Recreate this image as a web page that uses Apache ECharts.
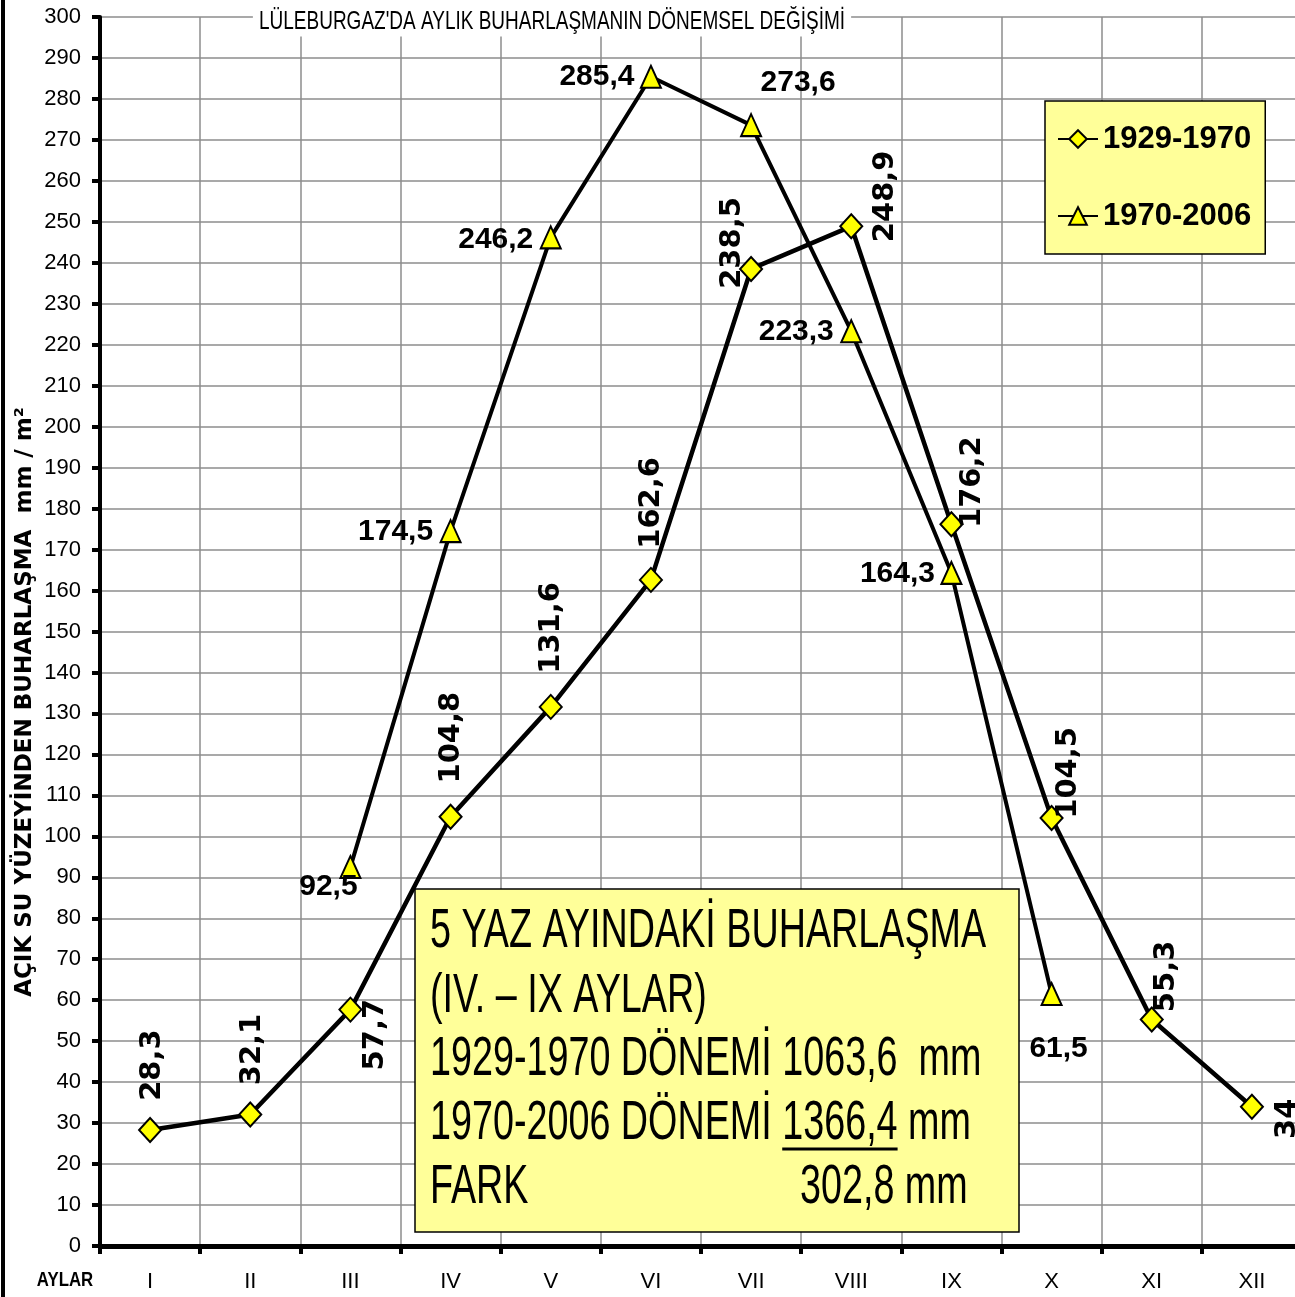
<!DOCTYPE html>
<html>
<head>
<meta charset="utf-8">
<script src="https://cdn.jsdelivr.net/npm/echarts@6/dist/echarts.min.js"></script>
<style>
  html, body { margin: 0; padding: 0; background: #fff; }
  #chart { width: 1295px; height: 1297px; }
</style>
</head>
<body>
<div id="chart"></div>
<script>
// Months (Roman numerals) and monthly open-water evaporation (mm)
const months = ['I', 'II', 'III', 'IV', 'V', 'VI', 'VII', 'VIII', 'IX', 'X', 'XI', 'XII'];
const evap1929 = [28.3, 32.1, 57.7, 104.8, 131.6, 162.6, 238.5, 248.9, 176.2, 104.5, 55.3, 34];
const evap1970 = [null, null, 92.5, 174.5, 246.2, 285.4, 273.6, 223.3, 164.3, 61.5, null, null];
const seriesNames = ['1929-1970', '1970-2006'];

// Summary box text
const noteLines = [
  '5 YAZ AYINDAKİ BUHARLAŞMA',
  '(IV. – IX AYLAR)',
  '1929-1970 DÖNEMİ 1063,6  mm',
  '1970-2006 DÖNEMİ 1366,4 mm',
  'FARK'
];
const noteDiff = '302,8 mm';
const chartTitle = "LÜLEBURGAZ'DA AYLIK BUHARLAŞMANIN DÖNEMSEL DEĞİŞİMİ";

// Screen shift of each value label from its marker centre [dx, dy]
const shift1929 = [[2,-65],[2,-65],[25,25],[1,-79],[1,-79],[1,-77],[-19,-26],[34,-30],[21,-42],[17,-45],[15,-43],[36,12]];
const shift1970 = [null,null,[-22,20],[-55,1],[-55,2],[-54,0],[47,-42],[-55,1],[-54,1],[7,55],null,null];

const fmt = p => String(p.value).replace('.', ',');
const SANS = '"Liberation Sans", Arial, sans-serif';
const NARROW_X = 0.82;   // horizontal squeeze giving a narrow face

// rotated labels: offset is applied in the label's rotated frame
const data1929 = evap1929.map((v, i) => ({
  value: v,
  label: { offset: [-shift1929[i][1], shift1929[i][0]] }
}));
const data1970 = evap1970.map((v, i) => v == null ? null : ({
  value: v,
  label: { offset: shift1970[i] }
}));

// underline position under the 1970-2006 total
const NOTE_FONT = '46px "Liberation Sans", Arial, sans-serif';
const ctx = document.createElement('canvas').getContext('2d');
ctx.font = NOTE_FONT;
const NOTE_X = 430;
const ulStart = NOTE_X + ctx.measureText('1970-2006 DÖNEMİ ').width * NARROW_X;
const ulEnd = ulStart + ctx.measureText('1366,4').width * NARROW_X;

const noteY = [932, 997, 1060, 1124, 1188];
const noteScaleY = 1.2;

function txt(x, y, text, font, align, sx, sy, extra) {
  return Object.assign({
    type: 'text', z: 101, x: x, y: y, scaleX: sx, scaleY: sy,
    style: Object.assign({ text: text, font: font, fill: '#000',
      textAlign: align, align: align, textVerticalAlign: 'middle', verticalAlign: 'middle' }, extra || {})
  });
}

const graphics = [
  { type: 'line', z: 100, shape: { x1: 3, y1: 0, x2: 3, y2: 1297 }, style: { stroke: '#000', lineWidth: 4 } },
  txt(552, 22, chartTitle, '25px "Liberation Sans", Arial, sans-serif', 'center', 0.76, 1,
      { backgroundColor: '#fff', padding: [2, 8] }),
  { type: 'text', z: 100, x: 25, y: 702, rotation: Math.PI / 2,
    style: { text: 'AÇIK SU YÜZEYİNDEN BUHARLAŞMA  mm / m²', font: 'bold 23px "DejaVu Sans"',
             fill: '#000', textAlign: 'center', textVerticalAlign: 'middle', align: 'center', verticalAlign: 'middle' } },
  txt(65, 1280, 'AYLAR', 'bold 21px "Liberation Sans", Arial, sans-serif', 'center', 0.8, 1),
  { type: 'rect', z: 100, shape: { x: 415, y: 889, width: 604, height: 343 },
    style: { fill: '#ffff99', stroke: '#000', lineWidth: 1.5 } }
];
noteLines.forEach((t, i) => {
  graphics.push(txt(NOTE_X, noteY[i], t, NOTE_FONT, 'left', NARROW_X, noteScaleY));
});
graphics.push(txt(800, noteY[4], noteDiff, NOTE_FONT, 'left', NARROW_X, noteScaleY));
graphics.push({ type: 'line', z: 101, shape: { x1: ulStart, y1: 1149, x2: ulEnd, y2: 1149 },
  style: { stroke: '#000', lineWidth: 3 } });

const chart = echarts.init(document.getElementById('chart'), null, { renderer: 'canvas' });
chart.setOption({
  animation: false,
  backgroundColor: '#fff',
  legend: {
    data: seriesNames,
    orient: 'vertical',
    left: 1045, top: 101,
    backgroundColor: '#ffff99',
    borderColor: '#000', borderWidth: 1.5, borderRadius: 0,
    padding: [18, 14, 18, 12],
    itemGap: 37, itemWidth: 40, itemHeight: 22,
    textStyle: { fontFamily: SANS, fontWeight: 'bold', fontSize: 31, lineHeight: 40, color: '#000' }
  },
  grid: { left: 100, top: 17, width: 1202, height: 1229, outerBoundsMode: 'none', containLabel: false },
  xAxis: {
    type: 'category',
    data: months,
    boundaryGap: true,
    axisLine: { lineStyle: { color: '#000', width: 5 } },
    axisTick: { show: true, length: 8, lineStyle: { color: '#000', width: 4 } },
    splitLine: { show: true, lineStyle: { color: '#8c8c8c', width: 1.5 } },
    axisLabel: { margin: 25, fontFamily: SANS, fontSize: 22, color: '#000' }
  },
  yAxis: {
    type: 'value',
    min: 0, max: 300, interval: 10,
    axisLine: { show: true, lineStyle: { color: '#000', width: 4 } },
    axisTick: { show: true, length: 8, lineStyle: { color: '#000', width: 4 } },
    splitLine: { show: true, lineStyle: { color: '#8c8c8c', width: 1.5 } },
    axisLabel: { margin: 19, fontFamily: SANS, fontSize: 22, color: '#000' }
  },
  series: [
    {
      name: seriesNames[0], type: 'line', data: data1929,
      symbol: 'diamond', symbolSize: [22, 24],
      lineStyle: { color: '#000', width: 4.5 },
      itemStyle: { color: '#ffff00', borderColor: '#000', borderWidth: 2 },
      label: { show: true, position: 'inside', rotate: 90, align: 'center', verticalAlign: 'middle',
               formatter: fmt, fontFamily: '"DejaVu Sans"', fontWeight: 'bold', fontSize: 29, color: '#000' },
      emphasis: { disabled: true }, z: 4
    },
    {
      name: seriesNames[1], type: 'line', data: data1970,
      symbol: 'triangle', symbolSize: [20, 22],
      lineStyle: { color: '#000', width: 4 },
      itemStyle: { color: '#ffff00', borderColor: '#000', borderWidth: 2 },
      label: { show: true, position: 'inside', align: 'center', verticalAlign: 'middle',
               formatter: fmt, fontFamily: SANS, fontWeight: 'bold', fontSize: 30, color: '#000' },
      emphasis: { disabled: true }, z: 3
    }
  ],
  graphic: graphics
});
</script>
</body>
</html>
